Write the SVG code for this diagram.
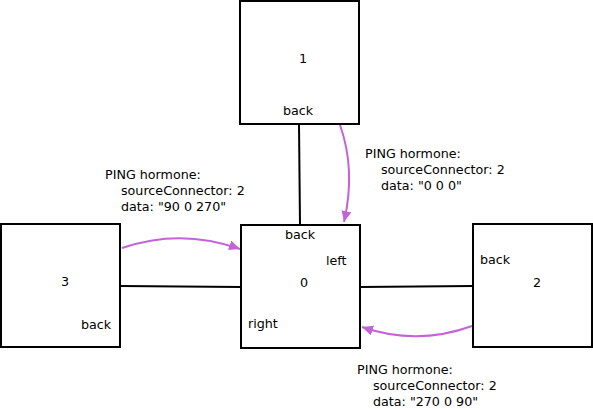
<svg xmlns="http://www.w3.org/2000/svg" width="593" height="409" viewBox="0 0 593 409">
<style>
.box{fill:#fff;stroke:#000;stroke-width:2}
.t{font-family:"DejaVu Sans",sans-serif;font-size:12.7px;fill:#000}
.m{text-anchor:middle}
.link{stroke:#000;stroke-width:2;fill:none}
.msg{stroke:#c462d8;stroke-width:2;fill:none;marker-end:url(#ah)}
</style>
<defs>
<marker id="ah" markerUnits="userSpaceOnUse" markerWidth="12" markerHeight="11" refX="11" refY="5" orient="auto">
<path d="M0,0 L11,5 L0,10 z" fill="#c462d8"/>
</marker>
</defs>
<rect width="593" height="409" fill="#fff"/>
<g id="connectors">
<path class="link" d="M299,124 L300,225"/>
<path class="link" d="M120,286 L241,287"/>
<path class="link" d="M360,287 L473,286"/>
<path class="msg" d="M340,125 Q356,170 344,222"/>
<path class="msg" d="M122,248 Q181,228 240,249"/>
<path class="msg" d="M472,326 Q417,346 362,327"/>
</g>
<g id="node1">
<rect class="box" x="240" y="1" width="119" height="123"/>
<text class="t m" x="303" y="63">1</text>
<text class="t m" x="298" y="115">back</text>
</g>
<g id="node0">
<rect class="box" x="241" y="225" width="119" height="123"/>
<text class="t m" x="300" y="239">back</text>
<text class="t" x="326" y="265">left</text>
<text class="t m" x="304" y="287">0</text>
<text class="t" x="248" y="328">right</text>
</g>
<g id="node3">
<rect class="box" x="1" y="224" width="119" height="123"/>
<text class="t m" x="65" y="286">3</text>
<text class="t" x="81" y="329">back</text>
</g>
<g id="node2">
<rect class="box" x="473" y="224" width="119" height="123"/>
<text class="t" x="480" y="264">back</text>
<text class="t m" x="537" y="287">2</text>
</g>
<g id="labels">
<text class="t" x="105" y="179">PING hormone:</text>
<text class="t" x="121" y="195">sourceConnector: 2</text>
<text class="t" x="121" y="211">data: "90 0 270"</text>
<text class="t" x="365" y="158">PING hormone:</text>
<text class="t" x="381" y="174">sourceConnector: 2</text>
<text class="t" x="381" y="190">data: "0 0 0"</text>
<text class="t" x="357" y="374">PING hormone:</text>
<text class="t" x="373" y="390">sourceConnector: 2</text>
<text class="t" x="373" y="406">data: "270 0 90"</text>
</g>
</svg>
